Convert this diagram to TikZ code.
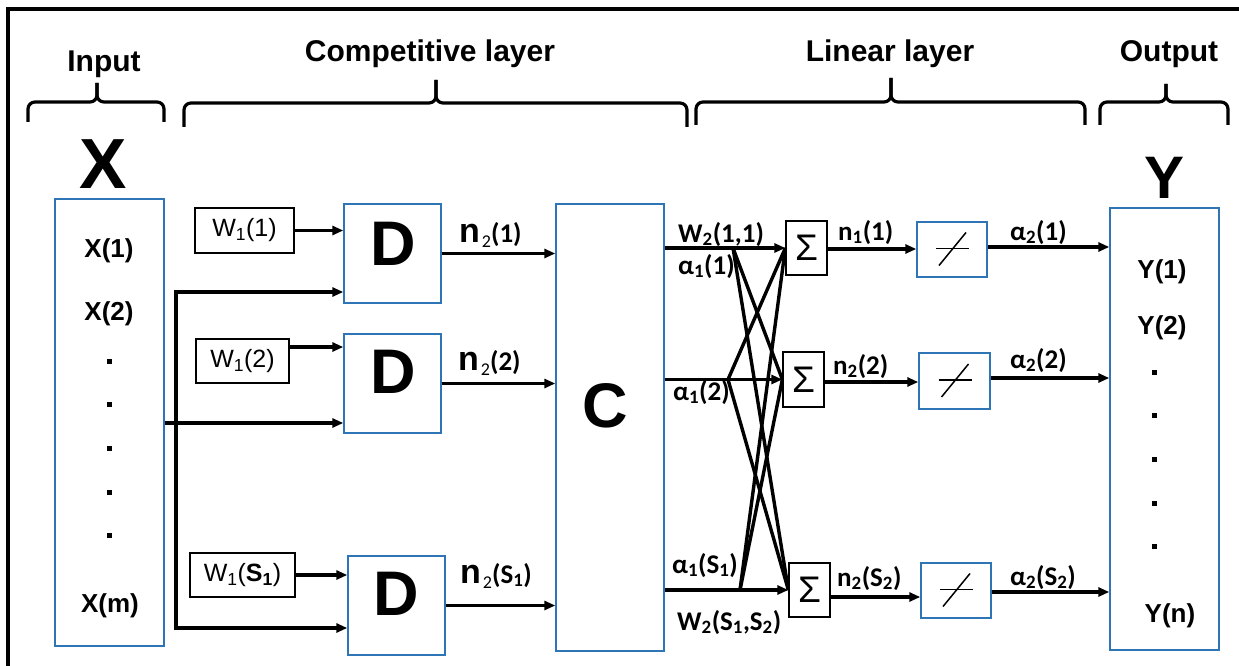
\documentclass[tikz,border=0pt]{standalone}
\usepackage{fontspec}
\setmainfont{Liberation Sans}
\newfontfamily\cfont{Carlito}
\usetikzlibrary{arrows.meta,calc}
\definecolor{boxblue}{RGB}{46,117,182}
\newcommand\nlab[1]{{\fontsize{34}{34}\selectfont\bfseries n}\hspace{2pt}\raisebox{-5pt}{\cfont\fontsize{18}{18}\selectfont 2}{\cfont\fontsize{27}{27}\selectfont\bfseries(#1)}}
\begin{document}
\begin{tikzpicture}[x=1pt,y=-1pt,
  bbox/.style={draw=boxblue,line width=1.4pt,inner sep=0pt},
  kbox/.style={draw=black,line width=1.3pt,inner sep=0pt,font=\fontsize{25}{27}\selectfont},
  arr/.style={line width=3.2pt,-{Triangle[length=11pt,width=9pt]}},
  ln/.style={line width=3.4pt},
  brace/.style={line width=3.2pt,rounded corners=7pt},
  head/.style={font=\fontsize{30}{36}\selectfont\bfseries,anchor=base,inner sep=0pt},
  big/.style={font=\fontsize{63}{70}\selectfont\bfseries,anchor=base,inner sep=0pt},
  lab/.style={font=\fontsize{26}{30}\selectfont\bfseries,anchor=base,inner sep=0pt},
  clab/.style={font=\cfont\fontsize{27}{30}\selectfont\bfseries,anchor=base west,inner sep=0pt},
  nl/.style={anchor=base west,inner sep=0pt},
  sig/.style={draw=black,line width=1.3pt,inner sep=0pt,font=\fontsize{37}{37}\selectfont},
  dotn/.style={fill=black,minimum size=5pt,inner sep=0pt},
]
\clip (0,0) rectangle (1239,666);
\fill[white] (0,0) rectangle (1239,666);
% frame
\draw[line width=3.5pt] (8,690) -- (8,9) -- (1260,9);

% headings
\node[head] (hIn) at (104,72) {Input};
\node[head] (hComp) at (430,62) {Competitive layer};
\node[head] (hLin) at (890,62) {Linear layer};
\node[head] (hOut) at (1169,62) {Output};

% braces
\draw[brace] (28,122) -- (28,102) -- (97,102) -- (97,83);
\draw[brace] (164,122) -- (164,102) -- (97,102) -- (97,83);
\draw[brace] (184,127) -- (184,103) -- (436,103) -- (436,80);
\draw[brace] (687,127) -- (687,103) -- (436,103) -- (436,80);
\draw[brace] (696,125) -- (696,102) -- (891,102) -- (891,78);
\draw[brace] (1085,125) -- (1085,102) -- (891,102) -- (891,78);
\draw[brace] (1100,125) -- (1100,102) -- (1166,102) -- (1166,84);
\draw[brace] (1228,125) -- (1228,102) -- (1166,102) -- (1166,84);

% input box
\node[big,font=\fontsize{71}{76}\selectfont\bfseries] (bigX) at (103,188) {X};
\node[bbox,minimum width=109pt,minimum height=447pt] (Xb) at (109.5,422.5) {};
\node[lab] (x1) at (109,257) {X(1)};
\node[lab] (x2) at (109,320) {X(2)};
\foreach \yy [count=\i] in {361,404,448,492,535} \node[dotn] (xd\i) at (109,\yy) {};
\node[lab] (xm) at (110,612) {X(m)};

% weights
\node[kbox,minimum width=99pt,minimum height=45pt] (W1) at (244.5,230.5) {W\textsubscript{1}(1)};
\node[kbox,minimum width=93pt,minimum height=44pt] (W2) at (242.5,361) {W\textsubscript{1}(2)};
\node[kbox,minimum width=105pt,minimum height=44pt] (W3) at (242.5,575) {W\textsubscript{1}(\textbf{S}\textsubscript{\textbf{1}})};

% distance boxes
\node[bbox,minimum width=97pt,minimum height=99pt] (D1) at (392.5,253.5) {};
\node[bbox,minimum width=97pt,minimum height=99pt] (D2) at (392.5,383.5) {};
\node[bbox,minimum width=97pt,minimum height=99pt] (D3) at (396.5,605.5) {};
\node[big] (dl1) at (393,265) {D};
\node[big] (dl2) at (393,393) {D};
\node[big] (dl3) at (396,615) {D};

% competitive box
\node[bbox,minimum width=108pt,minimum height=447pt] (C) at (610,427.5) {};
\node[big] (cl) at (605,427) {C};

% bus
\coordinate (bt) at (176,292);
\coordinate (bm) at (176,423);
\coordinate (bb) at (176,628);
\draw[arr] (bb) -- (bt) -- (bt -| D1.west);
\draw[arr] (bt) -- (bb) -- (bb -| D3.west);
\draw[arr] (Xb.east |- bm) -- (bm -| D2.west);

% weights to D
\coordinate (w1a) at (W1.east);
\coordinate (w2a) at ($(W2.east)+(0,-14)$);
\coordinate (w3a) at (W3.east);
\draw[arr] (w1a) -- (w1a -| D1.west);
\draw[arr] (w2a) -- (w2a -| D2.west);
\draw[arr] (w3a) -- (w3a -| D3.west);

% D to C
\draw[arr] (D1.east) -- (D1.east -| C.west);
\draw[arr] (D2.east) -- (D2.east -| C.west);
\draw[arr] (D3.east) -- (D3.east -| C.west);
\node[nl] (n21) at (459,242) {\nlab{1}};
\node[nl] (n22) at (458,370) {\nlab{2}};
\node[nl] (n23) at (460,583) {\nlab{S\textsubscript{1}}};

% sum boxes
\node[sig,minimum width=41pt,minimum height=54pt] (S1) at (806.5,248) {Σ};
\node[sig,minimum width=41pt,minimum height=55pt] (S2) at (803.5,379.5) {Σ};
\node[sig,minimum width=41pt,minimum height=54pt] (S3) at (809.5,590) {Σ};

% C to sums
\draw[arr] (C.east |- S1.west) -- (S1.west);
\draw[arr] (C.east |- S2.west) -- (S2.west);
\draw[arr] (C.east |- S3.west) -- (S3.west);
\coordinate (B1) at (733,248);
\coordinate (B2) at (728,379.5);
\coordinate (B3) at (740,590);
\draw[ln] (B1) -- (S2.west);
\draw[ln] (B1) -- (S3.west);
\draw[ln] (B2) -- (S1.west);
\draw[ln] (B2) -- (S3.west);
\draw[ln] (B3) -- (S1.west);
\draw[ln] (B3) -- (S2.west);

\node[clab] (w211) at (678,242) {W\textsubscript{2}(1,1)};
\node[clab] (a11) at (678,274) {α\textsubscript{1}(1)};
\node[clab] (a12) at (673,400) {α\textsubscript{1}(2)};
\node[clab] (a1s) at (672,573) {α\textsubscript{1}(S\textsubscript{1})};
\node[clab] (w2ss) at (677,630) {W\textsubscript{2}(S\textsubscript{1},S\textsubscript{2})};

% linear boxes
\node[bbox,minimum width=70pt,minimum height=55pt] (L1) at (952,249.5) {};
\node[bbox,minimum width=71pt,minimum height=56pt] (L2) at (954.5,381) {};
\node[bbox,minimum width=70pt,minimum height=55pt] (L3) at (956,590.5) {};
\foreach \n in {L1,L2,L3} {
  \draw[line width=1.5pt] ($(\n.center)+(-16,-1)$) -- ($(\n.center)+(17,-1)$);
  \draw[line width=1.5pt] ($(\n.center)+(-13,16)$) -- ($(\n.center)+(14,-17)$);
}
\coordinate (s1o) at ($(S1.east)+(0,1)$);
\coordinate (s2o) at ($(S2.east)+(0,2.5)$);
\coordinate (s3o) at ($(S3.east)+(0,7)$);
\draw[arr] (s1o) -- (s1o -| L1.west);
\draw[arr] (s2o) -- (s2o -| L2.west);
\draw[arr] (s3o) -- (s3o -| L3.west);
\node[clab] (n11) at (838,240) {n\textsubscript{1}(1)};
\node[clab] (n2b) at (833,374) {n\textsubscript{2}(2)};
\node[clab] (n2s) at (837,586) {n\textsubscript{2}(S\textsubscript{2})};

% output box
\node[big,font=\fontsize{60}{66}\selectfont\bfseries] (bigY) at (1164,198) {Y};
\node[bbox,minimum width=109pt,minimum height=442pt] (Yb) at (1164.5,429) {};
\node[lab] (y1) at (1162,278) {Y(1)};
\node[lab] (y2) at (1162,334) {Y(2)};
\foreach \yy [count=\i] in {372,415,459,503,546} \node[dotn] (yd\i) at (1154,\yy) {};
\node[lab] (yn) at (1170,622) {Y(n)};

\coordinate (l1o) at ($(L1.east)+(0,-2.5)$);
\coordinate (l2o) at ($(L2.east)+(0,-3)$);
\coordinate (l3o) at ($(L3.east)+(0,1.5)$);
\draw[arr] (l1o) -- (l1o -| Yb.west);
\draw[arr] (l2o) -- (l2o -| Yb.west);
\draw[arr] (l3o) -- (l3o -| Yb.west);
\node[clab] (a21) at (1010,240) {α\textsubscript{2}(1)};
\node[clab] (a22) at (1010,368) {α\textsubscript{2}(2)};
\node[clab] (a2s) at (1010,585) {α\textsubscript{2}(S\textsubscript{2})};
\end{tikzpicture}
\end{document}
